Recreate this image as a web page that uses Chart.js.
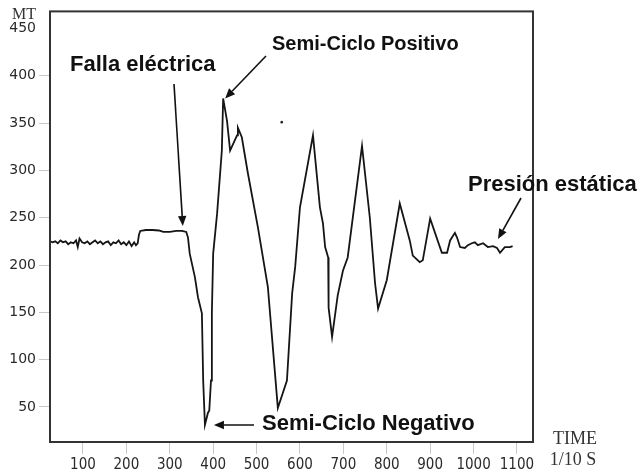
<!DOCTYPE html>
<html>
<head>
<meta charset="utf-8">
<script src="https://cdn.jsdelivr.net/npm/chart.js@4/dist/chart.umd.min.js"></script>
<style>
  html, body { margin: 0; padding: 0; background: #ffffff; }
  #wrap { width: 639px; height: 476px; position: relative; }
</style>
</head>
<body>
<div id="wrap"><canvas id="chart" width="639" height="476"></canvas></div>
<script>
// Pressure record (MT) against time (1/10 s) through an electrical fault
const timeValues = [
  24, 30, 36, 42, 48, 54, 60, 66, 72, 78, 84, 88, 92, 98, 104, 110, 116, 122, 128, 134,
  140, 146, 152, 158, 164, 170, 176, 182, 188, 194, 200, 206, 212, 218, 222, 226,
  229, 232, 245, 260, 275, 285, 300, 315, 328, 338,
  342, 346, 358, 365, 374, 377, 381, 388, 391, 395, 397, 400, 409, 420, 423,
  432, 439, 455, 457, 466, 480, 503, 526, 549,
  570, 582, 589, 600, 630,
  646, 653, 658, 665, 666, 674, 687, 699, 710, 743,
  761, 773, 780, 800, 830,
  853, 860, 876, 883, 900, 927, 939, 946, 957, 962, 969, 980, 987, 996,
  1003, 1010, 1022, 1033, 1045, 1054, 1061, 1072, 1084, 1090
];
const pressureValues = [
  225, 224, 225, 223, 226, 224, 225, 222, 224, 223, 226, 219, 228, 224, 223, 225, 222, 224, 226, 223,
  225, 222, 224, 225, 221, 224, 223, 226, 222, 224, 221, 225, 220, 224, 221, 223,
  232, 236, 237, 237, 236.5, 235, 235, 236, 236, 235,
  229, 212, 187, 166, 149, 78, 31, 44, 46, 78, 149, 212, 254, 321, 376,
  352, 321, 337, 345, 335, 297, 240, 177, 49,
  78, 170, 198, 261, 337,
  261, 244, 219, 208, 155, 124, 168, 194, 208, 326,
  250, 181, 154, 184, 265,
  226, 210, 203, 205, 249, 213, 213, 226, 234, 229, 219, 218, 221, 223,
  224, 221, 223, 219, 220, 218, 213, 219, 219, 220
];
// isolated speck above the trace
const speckTime = [558];
const speckPressure = [351];

const yTickValues = [50, 100, 150, 200, 250, 300, 350, 400, 450];
const xTickValues = [100, 200, 300, 400, 500, 600, 700, 800, 900, 1000, 1100];

const yAxisTitle = 'MT';
const xAxisTitleLines = ['TIME', '1/10 S'];

// callouts: label text plus the data point each arrow points at
const callouts = [
  { text: 'Falla eléctrica',     size: 22, point: [330, 237],  textPos: [70, 65],   tail: [174, 84],  tipOffset: [0, -4] },
  { text: 'Semi-Ciclo Positivo', size: 20, point: [423, 376],  textPos: [272, 44],  tail: [266, 56],  tipOffset: [2, 0] },
  { text: 'Semi-Ciclo Negativo', size: 22, point: [381, 31],   textPos: [262, 424], tail: [254, 425], tipOffset: [9, 0] },
  { text: 'Presión estática',    size: 22, point: [1054, 218], textPos: [468, 185], tail: [521, 198], tipOffset: [1, -9] }
];

const tracePoints = timeValues.map((t, i) => ({ x: t, y: pressureValues[i] }));
const speckPoints = speckTime.map((t, i) => ({ x: t, y: speckPressure[i] }));

function drawArrow(ctx, x0, y0, x1, y1) {
  const ang = Math.atan2(y1 - y0, x1 - x0);
  const headLen = 10, headHalf = 4.2;
  const bx = x1 - headLen * Math.cos(ang), by = y1 - headLen * Math.sin(ang);
  ctx.beginPath();
  ctx.moveTo(x0, y0);
  ctx.lineTo(bx, by);
  ctx.stroke();
  ctx.beginPath();
  ctx.moveTo(x1, y1);
  ctx.lineTo(bx + headHalf * Math.sin(ang), by - headHalf * Math.cos(ang));
  ctx.lineTo(bx - headHalf * Math.sin(ang), by + headHalf * Math.cos(ang));
  ctx.closePath();
  ctx.fill();
}

const framePlugin = {
  id: 'frameAndCallouts',
  afterDraw(chart) {
    const { ctx, chartArea: a, scales } = chart;
    ctx.save();
    // plot frame
    ctx.strokeStyle = '#333333';
    ctx.lineWidth = 2;
    ctx.strokeRect(a.left, a.top, a.right - a.left, a.bottom - a.top);

    // axis titles
    ctx.fillStyle = '#333333';
    ctx.font = '16px "Liberation Serif", "DejaVu Serif", serif';
    ctx.textAlign = 'left';
    ctx.textBaseline = 'middle';
    ctx.fillText(yAxisTitle, 12, 15);
    ctx.font = '18px "Liberation Serif", "DejaVu Serif", serif';
    ctx.textAlign = 'center';
    ctx.fillText(xAxisTitleLines[0], 575, 439);
    ctx.fillText(xAxisTitleLines[1], 573, 460);

    // callouts
    ctx.fillStyle = '#111111';
    ctx.strokeStyle = '#111111';
    ctx.lineWidth = 1.6;
    ctx.textAlign = 'left';
    ctx.textBaseline = 'middle';
    callouts.forEach(c => {
      ctx.font = 'bold ' + c.size + 'px "Liberation Sans", Arial, sans-serif';
      ctx.fillText(c.text, c.textPos[0], c.textPos[1]);
      const tx = scales.x.getPixelForValue(c.point[0]) + c.tipOffset[0];
      const ty = scales.y.getPixelForValue(c.point[1]) + c.tipOffset[1];
      drawArrow(ctx, c.tail[0], c.tail[1], tx, ty);
    });
    ctx.restore();
  }
};

new Chart(document.getElementById('chart'), {
  type: 'line',
  data: {
    datasets: [
      {
        data: tracePoints,
        borderColor: '#151515',
        borderWidth: 1.8,
        pointRadius: 0,
        tension: 0,
        fill: false
      },
      {
        type: 'scatter',
        data: speckPoints,
        backgroundColor: '#222222',
        borderWidth: 0,
        pointRadius: 1.3
      }
    ]
  },
  options: {
    responsive: false,
    animation: false,
    devicePixelRatio: 1,
    layout: { padding: { top: 11, right: 106, left: 0, bottom: 0 } },
    plugins: { legend: { display: false }, tooltip: { enabled: false } },
    scales: {
      x: {
        type: 'linear',
        min: 24,
        max: 1137,
        afterFit(scale) { scale.height = 34; },
        afterBuildTicks(scale) { scale.ticks = xTickValues.map(v => ({ value: v })); },
        border: { display: false },
        grid: { drawOnChartArea: false, drawTicks: true, tickLength: 12, color: '#c8c8c8', lineWidth: 1 },
        ticks: {
          autoSkip: false,
          maxRotation: 0,
          padding: 2,
          color: '#2a2a2a',
          callback: v => String(v),
          font: { family: '"DejaVu Sans Condensed", "DejaVu Sans", sans-serif', size: 15 }
        }
      },
      y: {
        type: 'linear',
        min: 13,
        max: 468,
        afterFit(scale) { scale.width = 50; },
        afterBuildTicks(scale) { scale.ticks = yTickValues.map(v => ({ value: v })); },
        border: { display: false },
        grid: {
          drawOnChartArea: false, drawTicks: true, tickLength: 11, lineWidth: 1,
          color: ctx => (ctx.tick && ctx.tick.value === 450 ? 'rgba(0,0,0,0)' : '#c8c8c8')
        },
        ticks: {
          padding: 3,
          color: '#2a2a2a',
          callback: v => String(v),
          font: { family: '"DejaVu Sans", Verdana, sans-serif', size: 14 }
        }
      }
    }
  },
  plugins: [framePlugin]
});
</script>
</body>
</html>
